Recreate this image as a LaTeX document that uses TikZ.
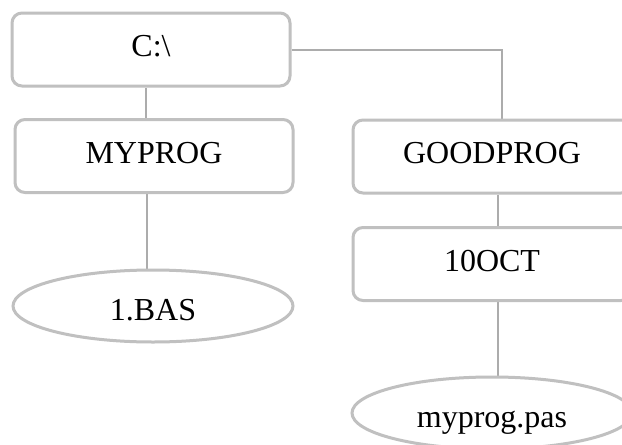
\documentclass[tikz,border=0pt]{standalone}
\usepackage{fontspec}
\setmainfont{Liberation Serif}
\usetikzlibrary{shapes.geometric,backgrounds}
\definecolor{bordergray}{RGB}{192,192,192}
\definecolor{linegray}{RGB}{172,172,172}
\begin{document}
\begin{tikzpicture}[x=1pt,y=-1pt,
  dirbox/.style={draw=bordergray,line width=3pt,rounded corners=10pt,fill=white,
    minimum width=278pt,minimum height=73pt,inner sep=0pt,
    text height=20pt,text depth=6pt,
    font=\fontsize{32}{38}\selectfont},
  filebox/.style={ellipse,draw=bordergray,line width=3pt,fill=white,
    minimum width=280pt,minimum height=72pt,inner sep=0pt,
    text height=28pt,text depth=0pt,
    font=\fontsize{32}{38}\selectfont},
  conn/.style={draw=linegray,line width=2pt}]
\useasboundingbox (0,0) rectangle (622,445);
\node[dirbox] (c) at (151,49.5) {C:\textbackslash};
\node[dirbox] (m) at (154,156) {MYPROG};
\node[dirbox] (g) at (492,156.5) {GOODPROG};
\node[dirbox] (t) at (492,264) {10OCT};
\node[filebox] (b) at (153,306) {1.BAS};
\node[filebox] (p) at (492,413) {myprog.pas};
\begin{scope}[on background layer]
\fill[white] (0,0) rectangle (622,445);
\draw[conn] ([xshift=-8pt]m.north) -- ([xshift=-8pt]m.north |- c.south);
\draw[conn] ([xshift=-7pt]m.south) -- ([xshift=-7pt]m.south |- b.north);
\draw[conn] (c.east) -| ([xshift=10pt]g.north);
\draw[conn] ([xshift=6pt]g.south) -- ([xshift=6pt]t.north);
\draw[conn] ([xshift=6pt]t.south) -- ([xshift=6pt]t.south |- p.north);
\end{scope}
\end{tikzpicture}
\end{document}
